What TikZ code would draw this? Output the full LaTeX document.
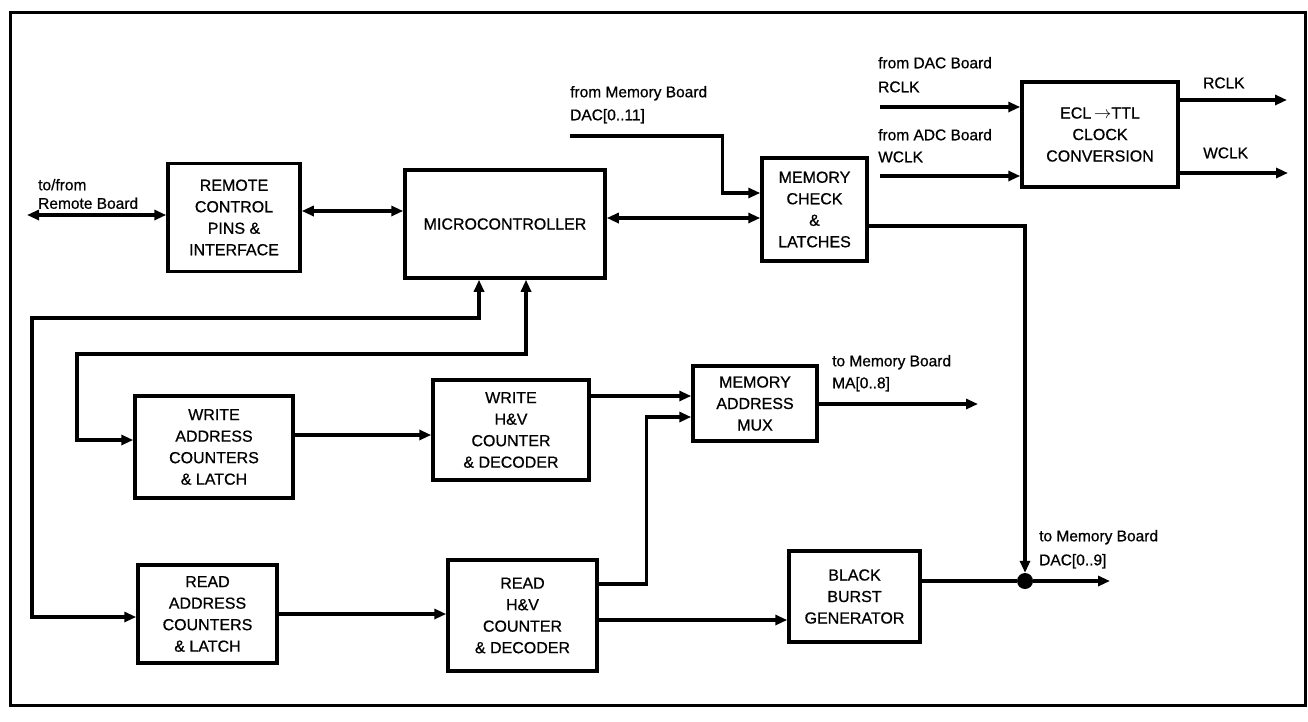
\documentclass[tikz,border=0pt]{standalone}
\usepackage{fontspec}
\setmainfont{Liberation Sans}[FakeBold=0.7]
\usetikzlibrary{arrows.meta}
\begin{document}
\begin{tikzpicture}[x=1pt,y=-1pt,
  blk/.style={draw,line width=3.5pt,align=center,inner sep=0pt,
    font=\fontsize{16}{21.5}\selectfont},
  lbl/.style={anchor=west,inner sep=0pt,text height=10.5pt,text depth=0pt,
    font=\fontsize{15.5}{17}\selectfont},
  wire/.style={line width=3.5pt},
  arr/.style={wire,-{Triangle[length=12pt,width=10pt]}},
  dbl/.style={wire,{Triangle[length=12pt,width=10pt]}-{Triangle[length=12pt,width=10pt]}},
  jdot/.style={circle,fill,inner sep=0pt,minimum size=16pt}]
\useasboundingbox (0,0) rectangle (1308,721);
\draw[line width=3pt] (10,12) rectangle (1305,705);
% boxes
\node[blk,minimum width=132pt,minimum height=108pt] (rem) at (234,217.5) {REMOTE\\CONTROL\\PINS \&\\INTERFACE};
\node[blk,minimum width=200pt,minimum height=108pt] (mc) at (505,224) {MICROCONTROLLER};
\node[blk,minimum width=105pt,minimum height=103pt] (mck) at (814.5,209.5) {MEMORY\\CHECK\\\&\\LATCHES};
\node[blk,minimum width=156pt,minimum height=105pt] (ecl) at (1100,134.5) {ECL$\,\rightarrow$TTL\\CLOCK\\CONVERSION};
\node[blk,minimum width=158pt,minimum height=102pt] (wa) at (214,447) {WRITE\\ADDRESS\\COUNTERS\\\& LATCH};
\node[blk,minimum width=156pt,minimum height=100pt] (wh) at (511,430) {WRITE\\H\&V\\COUNTER\\\& DECODER};
\node[blk,minimum width=124pt,minimum height=75pt] (mux) at (755,403.5) {MEMORY\\ADDRESS\\MUX};
\node[blk,minimum width=139pt,minimum height=98pt] (ra) at (207.5,614) {READ\\ADDRESS\\COUNTERS\\\& LATCH};
\node[blk,minimum width=149pt,minimum height=111pt] (rh) at (522.5,615.5) {READ\\H\&V\\COUNTER\\\& DECODER};
\node[blk,minimum width=131pt,minimum height=91pt] (bb) at (854.5,596.5) {BLACK\\BURST\\GENERATOR};
\node[jdot] (jn) at (1025,581) {};
% labels
\node[lbl] (l1) at (38,185) {to/from};
\node[lbl] (l2) at (38,203.5) {Remote Board};
\node[lbl] (l3) at (570,92) {from Memory Board};
\node[lbl] (l4) at (570,115) {DAC[0..11]};
\node[lbl] (l5) at (878,63) {from DAC Board};
\node[lbl] (l6) at (878,87) {RCLK};
\node[lbl] (l7) at (878,135) {from ADC Board};
\node[lbl] (l8) at (878,157) {WCLK};
\node[lbl] (l9) at (1203,83) {RCLK};
\node[lbl] (l10) at (1203,153) {WCLK};
\node[lbl] (l11) at (832,361) {to Memory Board};
\node[lbl] (l12) at (832,383) {MA[0..8]};
\node[lbl] (l13) at (1039,536) {to Memory Board};
\node[lbl] (l14) at (1039,560) {DAC[0..9]};
% free ends
\coordinate (rbend) at (27,215);
\coordinate (dacin) at (570,136);
\coordinate (rclkin) at (880,107);
\coordinate (wclkin) at (880,176);
\coordinate (rclkout) at (1287,100);
\coordinate (wclkout) at (1288,173);
\coordinate (maout) at (978,404);
\coordinate (dacout) at (1110,581);
\coordinate (c1) at (32,318);
\coordinate (c2) at (77,354);
% connectors
\draw[dbl] (rbend) -- (rbend -| rem.west);
\coordinate (p1) at ([yshift=6.5pt]rem.east);
\draw[dbl] (p1) -- (p1 -| mc.west);
\coordinate (p2) at ([yshift=6pt]mc.east);
\draw[dbl] (p2) -- (p2 -| mck.west);
\coordinate (p3) at ([yshift=16.5pt]mck.west);
\draw[arr] (dacin) -| ([xshift=-38pt]p3) -- (p3);
\draw[arr] ([yshift=-16.5pt]mck.east) -| (jn.north);
\draw[arr] (rclkin) -- (rclkin -| ecl.west);
\draw[arr] (wclkin) -- (wclkin -| ecl.west);
\draw[arr] (rclkout -| ecl.east) -- (rclkout);
\draw[arr] (wclkout -| ecl.east) -- (wclkout);
\draw[dbl] ([yshift=-3pt]ra.west) -| (c1) -| ([xshift=-26pt]mc.south);
\draw[dbl] ([yshift=7pt]wa.west) -| (c2) -| ([xshift=21pt]mc.south);
\coordinate (p4) at ([yshift=12pt]wa.east);
\draw[arr] (p4) -- (p4 -| wh.west);
\coordinate (p5) at ([yshift=34pt]wh.east);
\draw[arr] (p5) -- (p5 -| mux.west);
\draw[arr] ([yshift=31.5pt]rh.east) -| ([xshift=-45pt,yshift=-13.5pt]mux.west) -- ([yshift=-13.5pt]mux.west);
\draw[arr] (ra.east) -- (ra.east -| rh.west);
\coordinate (p6) at ([yshift=-4.5pt]rh.east);
\draw[arr] (p6) -- (p6 -| bb.west);
\draw[wire] ([yshift=15.5pt]bb.east) -- (jn);
\draw[arr] (jn) -- (dacout);
\draw[arr] (maout -| mux.east) -- (maout);
\end{tikzpicture}
\end{document}
